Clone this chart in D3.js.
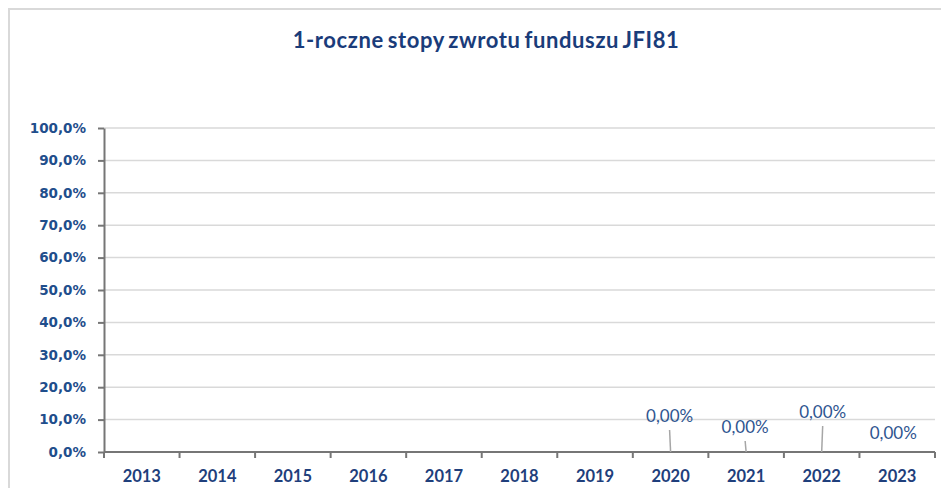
<!DOCTYPE html>
<html>
  <head>
    <meta charset="utf-8">
    <title>1-roczne stopy zwrotu funduszu JFI81</title>
    <script src="https://cdn.jsdelivr.net/npm/d3@7"></script>
    <style>
      body { margin: 0; background: #fff; }
      #chart { display: block; }
      .grid line { stroke: #d9d9d9; stroke-width: 1.5; }
      .axis path, .axis line { stroke: #767676; stroke-width: 2; }
      .yAxis text { font-family: "DejaVu Sans", sans-serif; font-weight: bold; font-size: 13.5px; fill: #1f4e8c; }
      .xAxis text { font-family: Lato, sans-serif; font-weight: bold; font-size: 16.5px; fill: #1f3f7c; }
      .title { font-family: Lato, sans-serif; font-weight: bold; font-size: 22px; letter-spacing: 0.6px; word-spacing: -2px; fill: #1a3c7a; }
      .valueLabel { font-family: Lato, sans-serif; font-size: 17px; fill: #2f5590; }
      .leader { stroke: #a6a6a6; stroke-width: 1.5; }
    </style>
  </head>

  <body>
    <svg id="chart" width="941" height="488"></svg>

    <script>
      // data
      var years = ["2013", "2014", "2015", "2016", "2017", "2018", "2019", "2020", "2021", "2022", "2023"];
      var returns = [null, null, null, null, null, null, null, 0, 0, 0, 0];
      var yTicks = [0, 0.1, 0.2, 0.3, 0.4, 0.5, 0.6, 0.7, 0.8, 0.9, 1];
      var titleText = "1-roczne stopy zwrotu funduszu JFI81";

      // hand-placed data labels (offset from the bar top), as in the source sheet
      var labelNudge = {
        "2020": [-1, -36],
        "2021": [-1, -25],
        "2022": [1, -40],
        "2023": [-4, -19]
      };

      var margin = { top: 128, right: 6, bottom: 36, left: 104 };
      var width = 941, height = 488;

      var chart = d3.select("#chart");

      // frame
      chart.append("rect")
        .attr("x", 9)
        .attr("y", 9)
        .attr("width", 1000)
        .attr("height", 1000)
        .attr("fill", "none")
        .attr("stroke", "#d9d9d9")
        .attr("stroke-width", 2);

      chart.append("text")
        .attr("class", "title")
        .attr("x", 486)
        .attr("y", 48)
        .attr("text-anchor", "middle")
        .text(titleText);

      var x = d3.scaleBand()
        .domain(years)
        .range([margin.left, width - margin.right]);
      var y = d3.scaleLinear()
        .domain([0, 1])
        .range([height - margin.bottom, margin.top]);

      var fmtAxis = function(d) { return d3.format(".1f")(d * 100).replace(".", ",") + "%"; };
      var fmtLabel = function(d) { return d3.format(".2f")(d * 100).replace(".", ",") + "%"; };

      // gridlines
      chart.append("g")
        .attr("class", "grid")
        .selectAll("line")
          .data(yTicks.filter(function(d) { return d > 0; }))
        .enter().append("line")
          .attr("x1", margin.left)
          .attr("x2", width - margin.right)
          .attr("y1", function(d) { return y(d); })
          .attr("y2", function(d) { return y(d); });

      var yAxis = d3.axisLeft(y)
        .tickValues(yTicks)
        .tickFormat(fmtAxis)
        .tickSizeInner(6)
        .tickSizeOuter(0)
        .tickPadding(12);
      chart.append("g")
        .attr("class", "axis yAxis")
        .attr("transform", "translate(" + margin.left + ",0)")
        .call(yAxis);

      // x axis: ticks sit on the category boundaries
      var xAxisGroup = chart.append("g")
        .attr("class", "axis xAxis")
        .attr("transform", "translate(0," + y(0) + ")");
      xAxisGroup.append("line")
        .attr("x1", margin.left)
        .attr("x2", width - margin.right)
        .attr("y1", 0)
        .attr("y2", 0);
      var bounds = years.map(function(d) { return x(d); }).concat([x.range()[1]]);
      xAxisGroup.selectAll(".tickMark")
          .data(bounds)
        .enter().append("line")
          .attr("class", "tickMark")
          .attr("x1", function(d) { return d; })
          .attr("x2", function(d) { return d; })
          .attr("y1", 0)
          .attr("y2", 6);
      xAxisGroup.selectAll(".yearLabel")
          .data(years)
        .enter().append("text")
          .attr("class", "yearLabel")
          .attr("x", function(d) { return x(d) + x.bandwidth() / 2; })
          .attr("y", 30)
          .attr("text-anchor", "middle")
          .text(function(d) { return d; });

      // data labels with leader lines
      var points = years
        .map(function(d, i) { return { year: d, value: returns[i] }; })
        .filter(function(d) { return d.value !== null; });

      var labels = chart.append("g").selectAll("g")
          .data(points)
        .enter().append("g");

      labels.each(function(d) {
        var g = d3.select(this);
        var cx = x(d.year) + x.bandwidth() / 2;
        var cy = y(d.value);
        var nudge = labelNudge[d.year] || [0, -12];
        var lx = cx + nudge[0];
        var ly = cy + nudge[1];
        if (cy - (ly + 14) > 8) {
          g.append("line")
            .attr("class", "leader")
            .attr("x1", cx)
            .attr("y1", cy)
            .attr("x2", lx)
            .attr("y2", ly + 14);
        }
        g.append("text")
          .attr("class", "valueLabel")
          .attr("x", lx)
          .attr("y", ly)
          .attr("dy", "0.36em")
          .attr("text-anchor", "middle")
          .text(fmtLabel(d.value));
      });
    </script>
  </body>
</html>
